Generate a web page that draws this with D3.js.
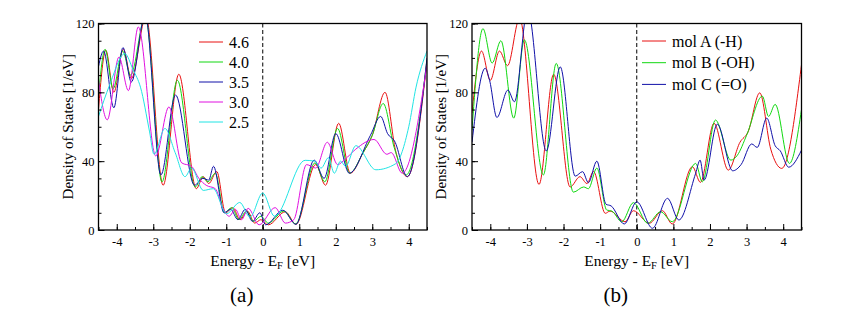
<html><body style="margin:0">
<script src="https://d3js.org/d3.v7.min.js"></script>
<script>

const
    width = 865,
    height = 312,
    serif = 'Times New Roman';

// panel (a): DOS for different values (legend labels)
const labelsA = ['4.6', '4.0', '3.5', '3.0', '2.5'];
const colorsA = ['#e81010', '#10d810', '#1010a8', '#e010e0', '#20e4e4'];

// [E - E_F (eV), DOS (1/eV)] at the turning points
const dos46 = [[-4.5, 70], [-4.3, 104.5], [-4.08, 80], [-3.82, 105], [-3.6, 88], [-3.2, 124], [-2.73, 26], [-2.3, 90.5],
    [-1.82, 24], [-1.63, 31], [-1.48, 27], [-1.26, 34], [-1.02, 10], [-0.82, 13], [-0.62, 6], [-0.42, 11], [-0.22, 4],
    [-0.05, 6], [0.15, 3], [0.62, 10.6], [0.91, 3.3], [1.45, 38], [1.72, 26], [2.08, 62], [2.4, 33], [2.75, 45],
    [3.0, 55], [3.35, 80], [3.64, 46], [3.96, 31], [4.5, 98]];
const dos40 = [[-4.5, 78], [-4.32, 105], [-4.1, 82], [-3.84, 104], [-3.62, 90], [-3.22, 124], [-2.76, 28], [-2.34, 87],
    [-1.85, 25], [-1.66, 31], [-1.5, 28], [-1.3, 33], [-1.05, 10], [-0.85, 13], [-0.65, 6], [-0.45, 11], [-0.25, 5],
    [-0.05, 8], [0.15, 4], [0.58, 11], [0.9, 3.5], [1.43, 39], [1.7, 28], [2.05, 59], [2.38, 33], [2.75, 45],
    [3.0, 55], [3.3, 73.5], [3.6, 48], [3.93, 32], [4.5, 99]];
const dos35 = [[-4.5, 95], [-4.36, 104], [-4.08, 71], [-3.83, 106], [-3.6, 86], [-3.22, 125], [-2.79, 32], [-2.39, 78.5],
    [-1.87, 26], [-1.64, 30], [-1.48, 29], [-1.35, 37], [-1.06, 10], [-0.88, 12], [-0.68, 6], [-0.48, 12], [-0.28, 5],
    [-0.08, 10], [0.08, 3], [0.55, 11.5], [0.91, 3.3], [1.41, 40.6], [1.68, 30], [2.0, 56], [2.37, 33], [2.95, 55],
    [3.23, 66], [3.42, 56], [3.61, 51.7], [3.96, 31], [4.5, 100]];
const dos30 = [[-4.5, 87], [-4.26, 64], [-3.94, 100.5], [-3.68, 81], [-3.41, 118], [-2.93, 43], [-2.57, 71.5], [-2.22, 39],
    [-1.95, 37], [-1.75, 30], [-1.55, 26], [-1.3, 24], [-1.1, 13], [-0.92, 8], [-0.75, 12], [-0.58, 6], [-0.4, 12.6],
    [-0.1, 3], [0.34, 13], [0.62, 4], [0.85, 6], [1.2, 38], [1.45, 36], [1.77, 51], [2.05, 38], [2.25, 41],
    [2.55, 47], [3.05, 52.6], [3.4, 44], [3.52, 45], [3.82, 33], [4.5, 96]];
const dos25 = [[-4.5, 66], [-4.2, 84], [-3.78, 102.5], [-3.55, 93], [-3.35, 83], [-3.1, 57], [-2.98, 44], [-2.68, 59],
    [-2.4, 45], [-2.13, 31], [-1.95, 36], [-1.63, 23], [-1.36, 24], [-0.99, 9.5], [-0.63, 16], [-0.35, 7.5],
    [0, 21.5], [0.32, 8], [1.16, 40.5], [1.42, 40], [1.6, 36], [1.8, 42], [1.96, 33], [2.13, 40], [2.27, 37],
    [2.55, 49], [3.1, 35], [3.64, 38.5], [4.0, 60], [4.2, 83], [4.5, 104]];

// panel (b): three molecules
const labelsB = ['mol A (-H)', 'mol B (-OH)', 'mol C (=O)'];
const colorsB = ['#e81010', '#10d810', '#1010a8'];

const molA = [[-4.5, 68], [-4.24, 104], [-4.0, 87], [-3.75, 104], [-3.53, 95.5], [-3.2, 123], [-2.67, 26.5], [-2.27, 90.5],
    [-1.82, 25], [-1.55, 31], [-1.36, 27], [-1.18, 34], [-0.86, 9.7], [-0.73, 11], [-0.32, 4.8], [-0.09, 11.2],
    [0.34, 3.9], [0.7, 11.2], [0.97, 3.5], [1.52, 36.8], [1.74, 27.7], [2.11, 62], [2.5, 34.8], [2.82, 51],
    [3.04, 57], [3.36, 79.7], [3.66, 47], [3.96, 35.8], [4.5, 96]];
const molB = [[-4.5, 58], [-4.2, 117], [-3.95, 97], [-3.71, 110], [-3.36, 65], [-3.07, 110.5], [-2.55, 32], [-2.2, 96.8],
    [-1.73, 22], [-1.45, 25], [-1.32, 24], [-1.09, 36], [-0.82, 11.6], [-0.68, 11], [-0.41, 4.8], [-0.09, 15.9],
    [0.3, 3.9], [0.65, 10.6], [0.97, 4.8], [1.61, 38.7], [1.79, 28], [2.15, 63.9], [2.57, 40.6], [2.75, 43.5],
    [3.0, 55], [3.43, 77.8], [3.6, 66], [3.78, 73], [4.17, 38.7], [4.5, 70]];
const molC = [[-4.5, 51], [-4.14, 94], [-4.02, 87], [-3.82, 65.4], [-3.52, 81.3], [-3.34, 74.5], [-2.98, 128], [-2.47, 45.9],
    [-2.09, 94.8], [-1.68, 31.3], [-1.48, 33.9], [-1.32, 27.5], [-1.09, 40], [-0.84, 15], [-0.7, 14], [-0.34, 3.5],
    [0, 16.4], [0.43, 1], [0.84, 18.4], [1.15, 5.8], [1.61, 33], [1.73, 40.6], [1.84, 29], [2.2, 61.5], [2.62, 34.4],
    [2.85, 38], [3.14, 50], [3.29, 48], [3.55, 65], [3.78, 49], [3.92, 46], [4.15, 36.5], [4.5, 46.4]];

const xTicks = [-4, -3, -2, -1, 0, 1, 2, 3, 4];
const yTicks = [0, 40, 80, 120];

var svg = d3.select('body')
    .append('svg')
    .attr('width', width)
    .attr('height', height)
    .attr('font-family', serif);

svg.append('rect')
    .attr('width', width).attr('height', height)
    .attr('fill', '#fff');

function panel(id, left, right, series, labels, colors, tag, legend) {
    const
        top = 23.5, bottom = 230,
        x = d3.scaleLinear().domain([-4.5, 4.5]).range([left, right]),
        y = d3.scaleLinear().domain([0, 120]).range([bottom, top]);

    svg.append('clipPath').attr('id', 'clip' + id)
      .append('rect')
        .attr('x', left).attr('y', top)
        .attr('width', right - left).attr('height', bottom - top);

    // Fermi level
    svg.append('line')
        .attr('x1', x(0)).attr('x2', x(0))
        .attr('y1', top).attr('y2', bottom)
        .attr('stroke', '#000')
        .attr('stroke-dasharray', '4,2.5');

    const line = d3.line()
        .x(d => x(d[0]))
        .y(d => y(d[1]))
        .curve(d3.curveMonotoneX);

    svg.append('g')
        .attr('clip-path', 'url(#clip' + id + ')')
        .selectAll('path')
        .data(series)
      .enter().append('path')
        .attr('fill', 'none')
        .attr('stroke-width', 1)
        .attr('stroke', (d, i) => colors[i])
        .attr('d', line);

    // axes, ticks pointing inward
    const axisStyle = g => {
        g.attr('font-family', serif).attr('font-size', 12.5);
        g.select('.domain').remove();
        g.selectAll('line').attr('stroke', '#000');
    };

    svg.append('g')
        .attr('transform', 'translate(0,' + bottom + ')')
        .call(d3.axisBottom(x).tickValues(d3.range(-4.5, 4.51, 0.5)).tickSize(-3).tickFormat(''))
        .call(axisStyle);
    svg.append('g')
        .attr('transform', 'translate(0,' + bottom + ')')
        .call(d3.axisBottom(x).tickValues(xTicks).tickSize(-6).tickPadding(7).tickFormat(d => String(d)))
        .call(axisStyle);
    svg.append('g')
        .attr('transform', 'translate(' + left + ',0)')
        .call(d3.axisLeft(y).tickValues(d3.range(0, 121, 10)).tickSize(-3).tickFormat(''))
        .call(axisStyle);
    svg.append('g')
        .attr('transform', 'translate(' + left + ',0)')
        .call(d3.axisLeft(y).tickValues(yTicks).tickSize(-6).tickPadding(4).tickFormat(d => String(d)))
        .call(axisStyle);

    svg.append('rect')
        .attr('x', left).attr('y', top)
        .attr('width', right - left).attr('height', bottom - top)
        .attr('fill', 'none')
        .attr('stroke', '#000')
        .attr('stroke-width', 1.3);

    // axis titles
    const xt = svg.append('text')
        .attr('x', (left + right) / 2)
        .attr('y', 266)
        .attr('text-anchor', 'middle')
        .attr('font-family', serif)
        .attr('font-size', 15.5);
    xt.append('tspan').text('Energy - E');
    xt.append('tspan').attr('dy', 3).attr('font-size', 10.5).text('F');
    xt.append('tspan').attr('dy', -3).text(' [eV]');

    svg.append('text')
        .attr('transform', 'translate(' + (left - 31) + ',' + (top + bottom) / 2 + ') rotate(-90)')
        .attr('text-anchor', 'middle')
        .attr('dy', '0.35em')
        .attr('font-family', serif)
        .attr('font-size', 15)
        .text('Density of States [1/eV]');

    svg.append('text')
        .attr('x', (left + right) / 2 - 21)
        .attr('y', 302)
        .attr('text-anchor', 'middle')
        .attr('font-family', serif)
        .attr('font-size', 21)
        .text(tag);

    // legend
    const leg = svg.append('g')
        .selectAll('g')
        .data(labels)
      .enter().append('g')
        .attr('transform', (d, i) => 'translate(' + legend.x + ',' + (legend.y + i * legend.dy) + ')');
    leg.append('line')
        .attr('x1', 0).attr('x2', 24)
        .attr('stroke', (d, i) => colors[i]);
    leg.append('text')
        .attr('x', 30)
        .attr('dy', '0.35em')
        .attr('font-family', serif)
        .attr('font-size', 16)
        .text(d => d);
}

panel('a', 98.5, 427, [dos46, dos40, dos35, dos30, dos25], labelsA, colorsA, '(a)', {x: 199, y: 42, dy: 20});
panel('b', 472, 801.5, [molA, molB, molC], labelsB, colorsB, '(b)', {x: 642, y: 41, dy: 21.7});

</script>
</body></html>
